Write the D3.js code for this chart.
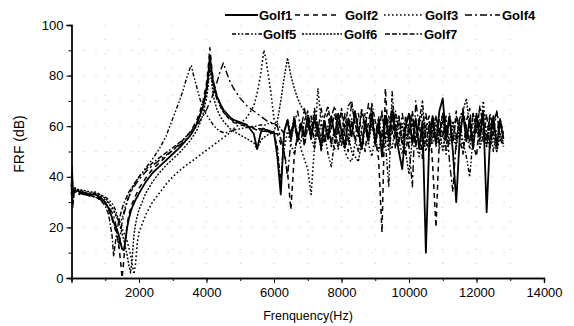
<!DOCTYPE html>
<html>
<head>
<meta charset="utf-8">
<script src="https://cdn.jsdelivr.net/npm/d3@7"></script>
<style>
  body { margin: 0; background: #fff; }
  svg { display: block; font-family: Arial, "Liberation Sans", sans-serif; }
</style>
</head>
<body>
<svg id="frf-chart" width="574" height="326"></svg>
<script>
// frequency samples (Hz)
var freqLow = [0, 20, 40, 80, 150, 250, 400, 550, 700, 850, 1000, 1100, 1200, 1250, 1300, 1350, 1400, 1450, 1500, 1550,
  1600, 1650, 1700, 1750, 1800, 1850, 1900, 1950, 2000, 2200, 2400, 2600, 2800, 3000, 3200, 3300, 3400, 3500, 3550, 3600,
  3700, 3800, 3900, 4000, 4050, 4100, 4150, 4200, 4300, 4400, 4500, 4600, 4700, 4800, 5000, 5200, 5400, 5500, 5600, 5650,
  5700, 5750, 5800, 5900, 6000];
var freqHigh = [6100, 6200, 6300, 6400, 6500, 6600, 6700, 6800, 6900, 7000, 7100, 7200, 7300, 7400, 7500, 7600, 7700, 7800,
  7900, 8000, 8100, 8200, 8300, 8400, 8500, 8600, 8700, 8800, 8900, 9000, 9100, 9200, 9300, 9400, 9500, 9600, 9700, 9800,
  9900, 10000, 10100, 10200, 10300, 10400, 10500, 10600, 10700, 10800, 10900, 11000, 11100, 11200, 11300, 11400, 11500,
  11600, 11700, 11800, 11900, 12000, 12100, 12200, 12300, 12400, 12500, 12600, 12700, 12800];

// FRF (dB) per golf club, low band then high band
var golf1 = [36, 42, 33, 35, 34.5, 34, 33.5, 33, 33, 32, 30, 27.5, 24, 22, 20.5, 19, 17, 14, 11.5, 11,
  15, 20, 23.5, 26, 28, 29.5, 31, 32, 33.5, 38, 41.5, 44, 46.5, 49, 51.5, 53, 54.5, 56, 57, 58,
  60.5, 64, 68, 75, 80, 88, 82, 77, 72, 69, 66.5, 65, 63.5, 62.5, 61.5, 60.5, 57, 51, 57, 59,
  59, 58.5, 58.5, 58, 57.5,
  48, 33, 58, 62, 55, 63, 54, 61, 56, 64, 55, 63, 57, 52, 62, 55, 64, 56, 65, 58, 52, 63, 56, 66, 58, 51, 62, 55, 65, 53,
  62, 48, 64, 55, 66, 57, 50, 43, 60, 65, 53, 63, 51, 62, 10, 54, 64, 53, 66, 71, 55, 64, 50, 30, 55, 65, 54, 63, 51, 65,
  56, 66, 26, 55, 64, 52, 62, 55];
var golf2 = [34, 30, 36, 34, 34, 33.5, 33, 32.5, 32.5, 31.5, 29.5, 27, 23.5, 21, 19, 16.5, 13, 7, 0, 7,
  16, 21, 25, 27.5, 29.5, 31, 32.5, 34, 35.5, 39.5, 43, 45.5, 48, 50.5, 53, 54.5, 56, 57.5, 58.5, 59.5,
  62, 65.5, 70, 77, 83, 91, 84, 78, 72.5, 69, 66, 64, 62.5, 61.5, 60.5, 60, 59.5, 59, 59, 58.5,
  58.5, 58, 58, 57.5, 57,
  57, 53, 50, 42, 27, 48, 57, 62, 52, 60, 64, 53, 61, 51, 62, 65, 54, 51, 61, 66, 55, 50, 62, 54, 65, 57, 50, 62, 68, 55,
  47, 18, 75, 52, 63, 51, 64, 54, 48, 61, 66, 52, 63, 47, 60, 64, 45, 20, 55, 65, 51, 63, 53, 66, 55, 49, 62, 67, 53, 48,
  63, 54, 65, 51, 61, 66, 55, 52];
var golf3 = [37, 35, 34, 35.5, 35, 34.5, 34, 33.5, 33.5, 32.5, 31, 29.5, 27.5, 26.5, 25, 24, 22.5, 21, 19.5, 18,
  16.5, 14.5, 12, 9, 5.5, 1.5, 6, 14, 18, 25, 30, 33.5, 37, 40, 42.5, 43.5, 44.5, 45.5, 46, 46.5,
  47.5, 48.5, 49.5, 50.5, 51, 51.5, 52, 52.5, 53.5, 54.5, 55.5, 56.5, 57.5, 59, 61, 63.5, 68, 73, 80, 85,
  90, 87, 83, 74, 63,
  60, 55, 51, 58, 53, 49, 57, 51, 47, 43, 33, 52, 75, 62, 54, 60, 52, 59, 51, 57, 50, 47, 46, 53, 59, 51, 60, 53, 48, 56,
  61, 52, 58, 50, 60, 64, 54, 49, 58, 52, 61, 53, 48, 57, 50, 60, 53, 61, 51, 58, 49, 56, 62, 53, 60, 50, 58, 51, 61, 64,
  55, 70, 57, 51, 58, 50, 57, 52];
var golf4 = [38, 35, 32, 34, 33.5, 33, 33, 32.5, 32, 31, 29.5, 28, 26, 24.5, 22, 18, 12, 17, 22, 25,
  27.5, 30, 32, 33.5, 35, 36, 37, 38, 39, 42, 44.5, 46.5, 48.5, 50.5, 52.5, 53.5, 55, 56, 57, 58,
  60, 62, 64, 66.5, 68, 69.5, 71, 73, 77, 81.5, 85, 81, 77.5, 75, 71, 68, 66, 65, 64, 63.5,
  63, 62.5, 62, 61.5, 61,
  60, 55, 50, 40, 54, 61, 66, 58, 67, 60, 56, 65, 58, 67, 60, 55, 64, 68, 59, 55, 65, 58, 69, 61, 56, 66, 59, 69, 62, 56,
  64, 54, 66, 58, 68, 60, 54, 65, 57, 52, 36, 70, 60, 55, 65, 57, 64, 54, 63, 56, 64, 46, 34, 55, 63, 67, 58, 54, 65, 57,
  68, 60, 54, 64, 57, 66, 59, 56];
var golf5 = [35, 38, 34, 35, 34.5, 34.5, 34, 33.5, 33.5, 33, 32, 31, 29.5, 28.5, 27, 25, 23, 22, 23.5, 26,
  28.5, 30.5, 32.5, 34, 35.5, 37, 38, 39, 40, 43.5, 47, 51, 56, 63, 70, 74, 78.5, 82.5, 84, 81,
  76, 71, 67, 64.5, 63.5, 62.5, 61.5, 60.5, 59, 58, 57.5, 57.5, 58, 58.5, 59, 59.5, 60, 60, 60.5, 60.5,
  60.5, 60.5, 61, 61, 61,
  61, 59, 57, 62, 56, 61, 54, 60, 53, 61, 55, 51, 59, 50, 57, 49, 44, 55, 60, 52, 61, 54, 63, 55, 50, 59, 65, 55, 62, 52,
  60, 65, 54, 36, 74, 56, 64, 53, 62, 55, 63, 52, 60, 66, 55, 50, 59, 64, 53, 62, 55, 65, 57, 51, 62, 54, 48, 40, 56, 64,
  54, 62, 52, 60, 50, 58, 63, 54];
var golf6 = [35, 40, 36, 36, 35, 35, 34.5, 34, 34, 33, 31.5, 30, 28, 27, 25.5, 24, 22, 20, 17.5, 15,
  12, 9, 5, 2, 8, 17, 21.5, 24.5, 27, 33.5, 38, 41.5, 44.5, 47, 49.5, 51, 52.5, 54, 55, 56,
  58, 61, 65, 71, 76, 83, 78, 72, 67, 64, 62, 60.5, 59, 58, 56.5, 55, 53.5, 51, 54, 55,
  55.5, 56, 56.5, 57, 58,
  62, 70, 79, 87, 80, 75, 71, 68, 66, 64, 62, 59, 56, 61, 54, 60, 53, 59, 52, 58, 51, 57, 50, 48, 46, 54, 60, 53, 61, 55,
  50, 58, 63, 55, 51, 60, 53, 61, 50, 41, 55, 62, 54, 50, 60, 53, 61, 52, 59, 50, 60, 53, 62, 55, 63, 66, 71, 59, 53, 60,
  51, 58, 52, 61, 55, 50, 57, 53];
var golf7 = [33, 44, 28, 34, 34, 33.5, 33, 32.5, 32, 31, 28.5, 25, 17, 8.5, 14, 19, 22.5, 25, 27.5, 29.5,
  31, 32.5, 34, 35, 36, 37, 38, 39, 40, 43, 45.5, 47.5, 49.5, 51.5, 53.5, 54.5, 56, 57, 58, 59,
  61, 64, 68, 73, 78, 85, 80, 75.5, 71, 68, 65.5, 64, 63, 62, 61, 60, 59, 58.5, 58.5, 58,
  58, 58, 57.5, 57.5, 57,
  52, 37, 57, 63, 57, 64, 56, 54, 62, 66, 58, 67, 60, 55, 64, 68, 59, 65, 57, 67, 59, 68, 70, 61, 57, 67, 60, 55, 69, 62,
  57, 66, 55, 64, 57, 66, 59, 53, 64, 57, 65, 55, 62, 70, 53, 62, 55, 64, 57, 65, 55, 63, 54, 64, 57, 66, 59, 54, 65, 59,
  67, 62, 55, 65, 59, 54, 63, 57];

var seriesNames = ["Golf1", "Golf2", "Golf3", "Golf4", "Golf5", "Golf6", "Golf7"];
var seriesValues = [golf1, golf2, golf3, golf4, golf5, golf6, golf7];
var xTicks = [2000, 4000, 6000, 8000, 10000, 12000, 14000];
var yTicks = [0, 20, 40, 60, 80, 100];

var dashes = ["none", "5,4", "1.6,2.4", "7,3,2,3", "4,2,1.6,2,1.6,2", "2,1.5", "5,2,5,2,1.6,2"];
var widths = [1.8, 1.5, 1.6, 1.4, 1.4, 1.4, 1.4];

var svg = d3.select("#frf-chart");
var margin = {top: 25, right: 30, bottom: 48, left: 71.5},
    width = 574 - margin.left - margin.right,
    height = 326 - margin.top - margin.bottom;

var x = d3.scaleLinear().domain([0, 14000]).range([0, width]);
var y = d3.scaleLinear().domain([0, 100]).range([height, 0]);

var g = svg.append("g")
    .attr("transform", "translate(" + margin.left + "," + margin.top + ")");

// faint dotted grid (as in the scanned figure)
g.append("g").selectAll("line")
    .data(d3.range(10, 100, 10))
    .enter().append("line")
    .attr("x1", 0).attr("x2", x(13000))
    .attr("y1", function(d) { return y(d); })
    .attr("y2", function(d) { return y(d); })
    .attr("stroke", "#b5b5b5").attr("stroke-width", 0.8)
    .attr("stroke-dasharray", "1,11");
g.append("g").selectAll("line")
    .data(d3.range(1000, 14000, 1000))
    .enter().append("line")
    .attr("x1", function(d) { return x(d); })
    .attr("x2", function(d) { return x(d); })
    .attr("y1", 0).attr("y2", height)
    .attr("stroke", "#b5b5b5").attr("stroke-width", 0.8)
    .attr("stroke-dasharray", "1,13");

var freq = freqLow.concat(freqHigh);
var line = d3.line()
    .x(function(d) { return x(d[0]); })
    .y(function(d) { return y(d[1]); });

// draw back to front so the solid line sits on top
for (var i = seriesValues.length - 1; i >= 0; i--) {
    var pts = seriesValues[i].map(function(v, j) { return [freq[j], v]; });
    g.append("path")
        .datum(pts)
        .attr("fill", "none")
        .attr("stroke", "#000")
        .attr("stroke-width", widths[i])
        .attr("stroke-dasharray", dashes[i])
        .attr("stroke-linejoin", "round")
        .attr("d", line);
}

// axes: minor ticks first, then majors with labels
var xMinor = d3.axisBottom(x).tickValues(d3.range(0, 14001, 1000)).tickSize(3).tickFormat("");
var xMajor = d3.axisBottom(x).tickValues(xTicks).tickSize(5).tickPadding(5).tickFormat(d3.format("d"));
var yMinor = d3.axisLeft(y).tickValues(d3.range(0, 101, 10)).tickSize(3).tickFormat("");
var yMajor = d3.axisLeft(y).tickValues(yTicks).tickSize(5).tickPadding(3);

[xMinor, xMajor].forEach(function(ax) {
    g.append("g").attr("transform", "translate(0," + height + ")").call(ax);
});
[yMinor, yMajor].forEach(function(ax) {
    g.append("g").call(ax);
});

g.selectAll(".domain").attr("stroke", "#000").attr("stroke-width", 1.3);
g.selectAll(".tick line").attr("stroke", "#000").attr("stroke-width", 1);
g.selectAll(".tick text").attr("fill", "#000").style("font-size", "13px");

// axis titles
svg.append("text")
    .attr("x", 308).attr("y", 320)
    .attr("text-anchor", "middle")
    .style("font-size", "12.5px")
    .text("Frenquency(Hz)");

svg.append("text")
    .attr("transform", "translate(24,144) rotate(-90)")
    .attr("text-anchor", "middle")
    .style("font-size", "14px")
    .text("FRF (dB)");

// legend, two rows
var legendItems = [
    {i: 0, x1: 225, x2: 258, tx: 259, ty: 19.5},
    {i: 1, x1: 295, x2: 338, tx: 345, ty: 19.5},
    {i: 2, x1: 384, x2: 422, tx: 425, ty: 19.5},
    {i: 3, x1: 465, x2: 500, tx: 502, ty: 19.5},
    {i: 4, x1: 232, x2: 262, tx: 263, ty: 38.5},
    {i: 5, x1: 302, x2: 342, tx: 344, ty: 38.5},
    {i: 6, x1: 385, x2: 422, tx: 424, ty: 38.5}
];
var legend = svg.append("g");
legendItems.forEach(function(it) {
    legend.append("line")
        .attr("x1", it.x1).attr("x2", it.x2)
        .attr("y1", it.ty - 4.5).attr("y2", it.ty - 4.5)
        .attr("stroke", "#000")
        .attr("stroke-width", widths[it.i])
        .attr("stroke-dasharray", dashes[it.i]);
    legend.append("text")
        .attr("x", it.tx).attr("y", it.ty)
        .style("font-size", "13px")
        .style("font-weight", "bold")
        .text(seriesNames[it.i]);
});
</script>
</body>
</html>
